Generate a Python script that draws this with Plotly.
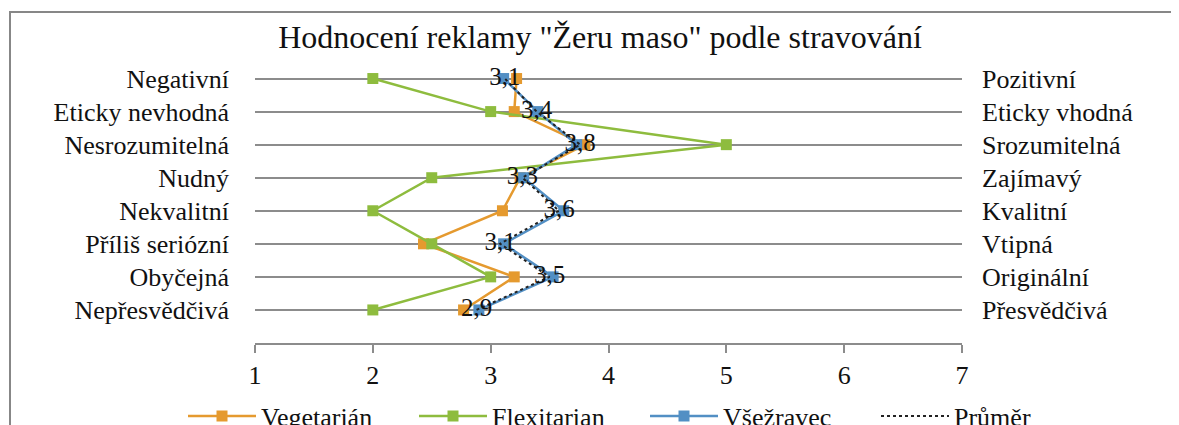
import plotly.graph_objects as go

# Rows listed bottom -> top
left_labels = ["Nepřesvědčivá", "Obyčejná", "Příliš seriózní", "Nekvalitní",
               "Nudný", "Nesrozumitelná", "Eticky nevhodná", "Negativní"]
right_labels = ["Přesvědčivá", "Originální", "Vtipná", "Kvalitní",
                "Zajímavý", "Srozumitelná", "Eticky vhodná", "Pozitivní"]
rows = [1, 2, 3, 4, 5, 6, 7, 8]

vegetarian = [2.77, 3.2, 2.43, 3.1, 3.25, 3.8, 3.2, 3.22]
flexitarian = [2.0, 3.0, 2.5, 2.0, 2.5, 5.0, 3.0, 2.0]
vsezravec = [2.9, 3.53, 3.11, 3.62, 3.28, 3.73, 3.4, 3.11]
prumer = [2.88, 3.5, 3.08, 3.58, 3.27, 3.76, 3.39, 3.12]
prumer_text = [f"{v:.1f}".replace(".", ",") for v in prumer]

x_ticks = [1, 2, 3, 4, 5, 6, 7]

FONT = "Liberation Serif"
GRID = "#8c8c8c"

fig = go.Figure()
fig.add_trace(go.Scatter(x=vegetarian, y=rows, name="Vegetarián", mode="lines+markers",
                         line=dict(color="#E59A2F", width=2.5),
                         marker=dict(symbol="square", size=11, color="#E59A2F")))
fig.add_trace(go.Scatter(x=flexitarian, y=rows, name="Flexitarian", mode="lines+markers",
                         line=dict(color="#8EBC3E", width=2.5),
                         marker=dict(symbol="square", size=11, color="#8EBC3E")))
fig.add_trace(go.Scatter(x=vsezravec, y=rows, name="Všežravec", mode="lines+markers",
                         line=dict(color="#528FC4", width=2.5),
                         marker=dict(symbol="square", size=11, color="#528FC4")))
fig.add_trace(go.Scatter(x=prumer, y=rows, name="Průměr", mode="lines+text",
                         line=dict(color="#222222", width=2, dash="dot"),
                         text=prumer_text, textposition="middle center",
                         textfont=dict(family=FONT, size=25, color="#111111")))
# invisible helper so the right-side axis renders
fig.add_trace(go.Scatter(x=[None], y=[None], yaxis="y2", showlegend=False, hoverinfo="skip"))

# The page body has an 8px default margin; work in figure pixels.
OFF = 8
W, H = 1179 - OFF, 425 - OFF
L, R, T, B = 255 - OFF, 217, 54, 82

def px_x(p):  # screen px -> paper x
    return (p - OFF - L) / (W - L - R)

def px_y(p):  # screen px -> paper y
    return (H - B - (p - OFF)) / (H - T - B)

fig.update_layout(
    width=W, height=H,
    margin=dict(l=L, r=R, t=T, b=B, autoexpand=False),
    paper_bgcolor="white", plot_bgcolor="white",
    font=dict(family=FONT, size=26, color="#111111"),
    title=dict(text='Hodnocení reklamy "Žeru maso" podle stravování',
               x=(600 - OFF) / W, xanchor="center", xref="container",
               y=1 - (37 - OFF) / H, yanchor="middle", yref="container",
               font=dict(family=FONT, size=32, color="#111111")),
    xaxis=dict(range=[1, 7], tickvals=x_ticks, ticktext=[str(v) for v in x_ticks],
               showgrid=False, zeroline=False, showline=True, linecolor=GRID, linewidth=1.5,
               ticks="outside", ticklen=8, tickcolor=GRID, tickwidth=1.5, automargin=False,
               tickfont=dict(family=FONT, size=26, color="#111111"), fixedrange=True),
    yaxis=dict(range=[0, 8.5], tickvals=rows, ticktext=left_labels, automargin=False,
               showgrid=True, gridcolor=GRID, gridwidth=1.5, zeroline=False, showline=False,
               ticks="", ticklabelstandoff=25,
               tickfont=dict(family=FONT, size=26, color="#111111")),
    yaxis2=dict(range=[0, 8.5], tickvals=rows, ticktext=right_labels, overlaying="y",
                side="right", showgrid=False, zeroline=False, showline=False, automargin=False,
                ticks="", ticklabelstandoff=19,
                tickfont=dict(family=FONT, size=26, color="#111111")),
    showlegend=True,
    legend=dict(orientation="h", xref="paper", yref="paper",
                x=px_x(183), xanchor="left", y=px_y(416), yanchor="middle",
                font=dict(family=FONT, size=26, color="#111111"),
                itemwidth=68, entrywidth=148, entrywidthmode="pixels",
                bgcolor="rgba(0,0,0,0)"),
    shapes=[dict(type="rect", xref="paper", yref="paper",
                 x0=px_x(10), x1=px_x(1190), y0=px_y(12), y1=px_y(440),
                 line=dict(color="#878787", width=2), fillcolor="rgba(0,0,0,0)", layer="below")],
)

fig.write_html("out.html")
